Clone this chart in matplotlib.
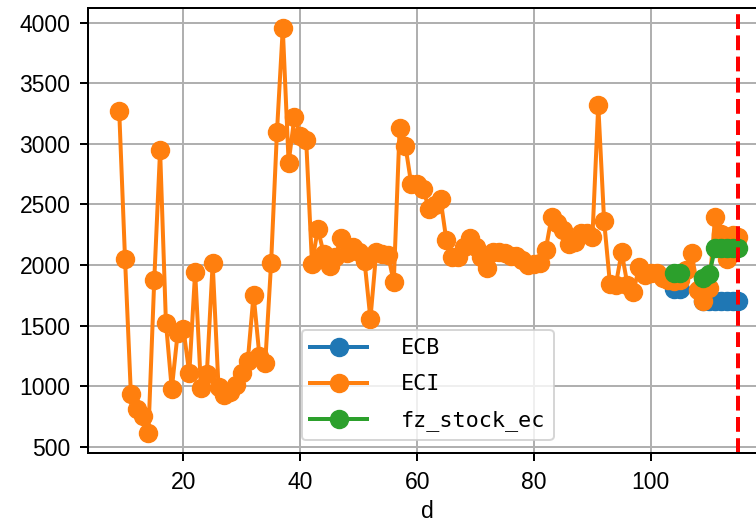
import numpy as np
import matplotlib
matplotlib.use("Agg")
import matplotlib.pyplot as plt

nan = np.nan

# ---- data ----
eci_d = list(range(9, 116))
eci = [3275, 2050, 935, 810, 755, 615, 1875, 2950, 1525, 975,
       1435, 1470, 1105, 1945, 985, 1100, 2015, 990, 925, 950,
       1010, 1110, 1205, 1755, 1250, 1195, 2015, 3095, 3955, 2845,
       3225, 3065, 3035, 2010, 2300, 2095, 1995, 2070, 2225, 2100,
       2150, 2105, 2030, 1555, 2110, 2090, 2085, 1860, 3130, 2980,
       2665, 2665, 2630, 2465, 2495, 2545, 2205, 2070, 2070, 2150,
       2220, 2150, 2070, 1975, 2110, 2105, 2100, 2075, 2075, 2040,
       2000, 2010, 2015, 2125, 2394, 2345, 2290, 2170, 2193, 2262,
       2262, 2234, 3321, 2364, 1845, 1836, 2106, 1836, 1776, 1987,
       1918, 1930, 1932, 1891, 1877, 1870, 1880, 1960, 2097, 1795,
       1705, 1810, 2400, 2260, 2050, 2250, 2230]

ecb_d = list(range(104, 116))
ecb = [1805, 1805, nan, nan, nan, 1700, 1700, 1700, 1700, 1700, 1700, 1700]

fz_d = list(range(104, 116))
fz_stock_ec = [1935, 1935, nan, nan, nan, 1890, 1925, 2140, 2140, 2140, 2140, 2140]

cut_d = 115
labels = ["ECB", "ECI", "fz_stock_ec"]

# ---- figure ----
fig = plt.figure(figsize=(7.56, 5.23), dpi=100)
ax = fig.add_axes([0.1167, 0.1338, 0.898, 0.851])

lw = 2.88
ms = 13
ax.plot(ecb_d, ecb, marker="o", lw=lw, ms=ms, color="#1f77b4", label=labels[0])
ax.plot(eci_d, eci, marker="o", lw=lw, ms=ms, color="#ff7f0e", label=labels[1])
ax.plot(fz_d, fz_stock_ec, marker="o", lw=lw, ms=ms, color="#2ca02c", label=labels[2])
ax.axvline(cut_d, color="red", linestyle="--", lw=2.88)
ax.set_xlim(3.7, 119.9)

ax.grid(True, color="#b0b0b0", lw=1.44)
for s in ax.spines.values():
    s.set_linewidth(1.44)
ax.tick_params(length=6, width=1.44, pad=6.7, labelsize=16.5)
for t in ax.get_xticklabels() + ax.get_yticklabels():
    t.set_family("Liberation Sans")
ax.set_xlabel("d", fontsize=16.5, family="Liberation Sans", labelpad=4.5)

leg = ax.legend(loc="lower center", prop={"family": "DejaVu Sans Mono", "size": 15.7},
                handlelength=2.6, handletextpad=1.55, borderaxespad=0.6,
                labelspacing=0.73)
leg.get_frame().set_linewidth(1.44)

fig.savefig("out.png", dpi=100)
